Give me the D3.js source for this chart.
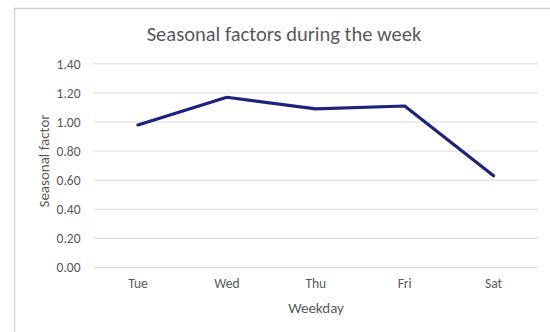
<!DOCTYPE html>
<html>
<head>
<meta charset="utf-8">
<script src="https://cdn.jsdelivr.net/npm/d3@7"></script>
<style>
  html, body { margin: 0; padding: 0; background: #fff; }
  svg { display: block; }
  text { font-family: Carlito, Calibri, Lato, "Open Sans", "Liberation Sans", sans-serif; }
</style>
</head>
<body>
<svg id="chart" width="550" height="332"></svg>
<script>
// Weekly seasonal factors
const weekdays = ["Tue", "Wed", "Thu", "Fri", "Sat"];
const factors = [0.98, 1.17, 1.09, 1.11, 0.63];
const yTicks = [0, 0.2, 0.4, 0.6, 0.8, 1.0, 1.2, 1.4];

const svg = d3.select("#chart");
const W = 550, H = 332;
const margin = { left: 93.5, right: 12, top: 63.8, bottom: 64.5 };
const innerTop = margin.top, innerBottom = H - margin.bottom;

// Frame edges (top and left)
svg.append("line").attr("x1", 14).attr("x2", W).attr("y1", 8.5).attr("y2", 8.5)
  .attr("stroke", "#d4d4d4").attr("stroke-width", 1.5);
svg.append("line").attr("x1", 14.5).attr("x2", 14.5).attr("y1", 8).attr("y2", H)
  .attr("stroke", "#d4d4d4").attr("stroke-width", 1.5);

const x = d3.scaleBand().domain(weekdays)
  .range([margin.left, W - margin.right]).paddingInner(0).paddingOuter(0);
const y = d3.scaleLinear().domain([0, 1.4]).range([innerBottom, innerTop]);

// Horizontal gridlines
svg.append("g").selectAll("line").data(yTicks).join("line")
  .attr("x1", margin.left).attr("x2", W - margin.right)
  .attr("y1", d => y(d)).attr("y2", d => y(d))
  .attr("stroke", "#d9d9d9").attr("stroke-width", 1);

// Y axis labels
const yAxis = d3.axisLeft(y).tickValues(yTicks).tickFormat(d3.format(".2f")).tickSize(0).tickPadding(13);
const gy = svg.append("g").attr("transform", `translate(${margin.left},0)`).call(yAxis);
gy.select(".domain").remove();
gy.selectAll("text").attr("fill", "#595959").attr("font-size", 13.5);

// X axis labels
const xAxis = d3.axisBottom(x).tickSize(0).tickPadding(11);
const gx = svg.append("g").attr("transform", `translate(0,${innerBottom})`).call(xAxis);
gx.select(".domain").remove();
gx.selectAll("text").attr("fill", "#595959").attr("font-size", 13.5);

// Series line
const line = d3.line()
  .x((d, i) => x(weekdays[i]) + x.bandwidth() / 2)
  .y(d => y(d));
svg.append("path").datum(factors)
  .attr("d", line)
  .attr("fill", "none")
  .attr("stroke", "#1a237e")
  .attr("stroke-width", 3.2)
  .attr("stroke-linejoin", "round")
  .attr("stroke-linecap", "round");

// Title
svg.append("text").attr("x", 284).attr("y", 41)
  .attr("text-anchor", "middle").attr("fill", "#595959").attr("font-size", 20.5)
  .text("Seasonal factors during the week");

// Axis titles
svg.append("text").attr("x", 316).attr("y", 313)
  .attr("text-anchor", "middle").attr("fill", "#595959").attr("font-size", 15)
  .text("Weekday");
svg.append("text")
  .attr("transform", `translate(49,161) rotate(-90)`)
  .attr("text-anchor", "middle").attr("fill", "#595959").attr("font-size", 15)
  .text("Seasonal factor");
</script>
</body>
</html>
